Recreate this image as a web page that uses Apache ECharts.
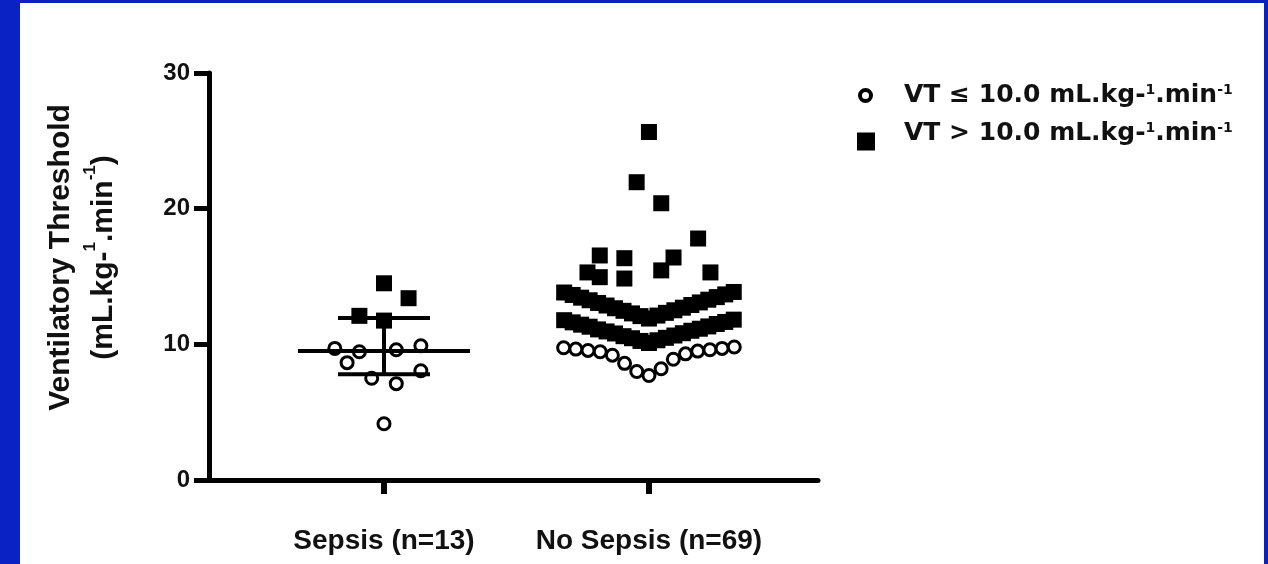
<!DOCTYPE html>
<html><head><meta charset="utf-8">
<script src="https://cdn.jsdelivr.net/npm/echarts@6/dist/echarts.min.js"></script>
<style>
html,body{margin:0;padding:0;background:#0a22c4;overflow:hidden;}
#frame{position:absolute;left:20px;top:3px;width:1244px;height:561px;background:#fff;}
#c{position:absolute;left:0;top:0;width:1268px;height:564px;}
</style>
</head><body><div id="frame"></div><div id="c"></div>
<script>
// ---- data ----
const categories = ['Sepsis (n=13)', 'No Sepsis (n=69)'];
const yTicks = [0, 10, 20, 30];

// Sepsis group
const sepsisLowVT      = [9.7, 9.45, 9.6, 9.9, 8.65, 7.5, 7.1, 8.05, 4.15];
const sepsisLowVTSlots = [-4, -2, 1, 3, -3, -1, 1, 3, 0];
const sepsisHighVT      = [14.5, 13.4, 12.1, 11.75];
const sepsisHighVTSlots = [0, 2, -2, 0];
const sepsisCenterLowHigh = [9.5, 7.8, 11.95];

// No-sepsis group
const noSepsisLowVT = [7.7, 8.0, 8.2, 8.6, 8.9, 9.2, 9.3, 9.45, 9.5, 9.55, 9.6, 9.65, 9.7, 9.75, 9.8];
const noSepsisHighVTBand1 = [10.1, 10.25, 10.3, 10.45, 10.48, 10.6, 10.65, 10.8, 10.82, 10.95, 11.0, 11.1, 11.15, 11.3, 11.32, 11.45, 11.5, 11.62, 11.65, 11.78, 11.82];
const noSepsisHighVTBand2 = [11.9, 12.08, 12.12, 12.28, 12.32, 12.47, 12.51, 12.66, 12.7, 12.86, 12.9, 13.05, 13.09, 13.25, 13.29, 13.44, 13.48, 13.64, 13.68, 13.82, 13.86];
const noSepsisHighVTScattered      = [25.65, 21.95, 20.4, 17.8, 16.55, 16.35, 16.4, 15.3, 14.95, 14.85, 15.45, 15.3];
const noSepsisHighVTScatteredSlots = [0, -1, 1, 4, -4, -2, 2, -5, -4, -2, 1, 5];

// ---- layout helpers (positions derived from the data) ----
const SLOT = 0.0464;       // one symbol step, in x-axis units
const BAND_SLOT = 0.032;   // tighter step for crowded rows
const CIRCLE_SLOT = 0.046;
function slotted(vals, slots, pos, w) { return vals.map((v, i) => [pos + slots[i] * w, v]); }
function chevron(vals, pos, w) {
  const s = vals.slice().sort((a, b) => a - b);
  return s.map((v, i) => [pos + Math.ceil(i / 2) * (i % 2 ? -1 : 1) * w, v]);
}

const lowData = [].concat(
  slotted(sepsisLowVT, sepsisLowVTSlots, 1, SLOT),
  chevron(noSepsisLowVT, 2, CIRCLE_SLOT)
);
const highData = [].concat(
  slotted(sepsisHighVT, sepsisHighVTSlots, 1, SLOT),
  chevron(noSepsisHighVTBand1, 2, BAND_SLOT),
  chevron(noSepsisHighVTBand2, 2, BAND_SLOT),
  slotted(noSepsisHighVTScattered, noSepsisHighVTScatteredSlots, 2, SLOT)
);

const ARIAL = 'Liberation Sans, Arial, sans-serif';
const DEJAVU = 'DejaVu Sans, sans-serif';
const supArial = { fontFamily: ARIAL, fontWeight: 'bold', fontSize: 17, verticalAlign: 'top', color: '#111' };
const supDejaVu = { fontFamily: DEJAVU, fontWeight: 'bold', fontSize: 14, verticalAlign: 'top', color: '#111' };

const chart = echarts.init(document.getElementById('c'), null, { renderer: 'canvas' });
chart.setOption({
  animation: false,
  backgroundColor: 'transparent',
  grid: { left: 209, right: 450, top: 73, bottom: 84 },
  xAxis: {
    type: 'value', min: 0.3396, max: 2.638,
    axisLine: { show: true, onZero: false, lineStyle: { color: '#000', width: 5 } },
    axisTick: { show: true, customValues: [1, 2], length: 14, lineStyle: { color: '#000', width: 6 } },
    axisLabel: {
      customValues: [1, 2], formatter: v => categories[Math.round(v) - 1],
      margin: 47, fontFamily: ARIAL, fontWeight: 'bold', fontSize: 28, color: '#111'
    },
    splitLine: { show: false }
  },
  yAxis: {
    type: 'value', min: yTicks[0], max: yTicks[yTicks.length - 1], interval: 10,
    axisLine: { show: true, onZero: false, lineStyle: { color: '#000', width: 5 } },
    axisTick: { show: true, length: 15, lineStyle: { color: '#000', width: 5 } },
    axisLabel: { margin: 19, fontFamily: ARIAL, fontWeight: 'bold', fontSize: 24, color: '#111' },
    splitLine: { show: false },
    name: 'Ventilatory Threshold\n(mL.kg-{sup|1}.min{sup|-1})',
    nameLocation: 'middle', nameGap: 84,
    nameTextStyle: {
      fontFamily: ARIAL, fontWeight: 'bold', fontSize: 30, color: '#111', lineHeight: 43,
      padding: [0, 0, 0, 38], align: 'center',
      rich: { sup: supArial }
    }
  },
  legend: [
    {
      data: [{ name: 'low', icon: 'circle', itemStyle: { color: '#fff', borderColor: '#000', borderWidth: 4 } }],
      left: 858, top: 83, padding: 0, itemWidth: 11, itemHeight: 11, orient: 'vertical',
      selectedMode: false,
      formatter: () => 'VT ≤ 10.0 mL.kg-{sup|1}.min{sup|-1}',
      textStyle: { fontFamily: DEJAVU, fontWeight: 'bold', fontSize: 25, color: '#111', padding: [0, 0, 0, 28], rich: { sup: supDejaVu } }
    },
    {
      data: [{ name: 'high', icon: 'rect', itemStyle: { color: '#000' } }],
      left: 857, top: 121, padding: 0, itemWidth: 18, itemHeight: 18, orient: 'vertical',
      selectedMode: false,
      formatter: () => 'VT > 10.0 mL.kg-{sup|1}.min{sup|-1}',
      textStyle: { fontFamily: DEJAVU, fontWeight: 'bold', fontSize: 25, color: '#111', padding: [0, 0, 16, 24], rich: { sup: supDejaVu } }
    }
  ],
  series: [
    {
      name: 'high', type: 'scatter', data: highData, symbol: 'rect', symbolSize: 16,
      itemStyle: { color: '#000', opacity: 1 }, z: 2
    },
    {
      name: 'low', type: 'scatter', data: lowData, symbol: 'circle', symbolSize: 12,
      itemStyle: { color: '#fff', borderColor: '#000', borderWidth: 3, opacity: 1 }, z: 3
    },
    {
      name: 'summary', type: 'custom', z: 4,
      data: [[1].concat(sepsisCenterLowHigh)],
      renderItem: (params, api) => {
        const x = api.value(0);
        const c = api.coord([x, api.value(1)]);
        const lo = api.coord([x, api.value(2)]);
        const hi = api.coord([x, api.value(3)]);
        const st = { stroke: '#000', lineWidth: 4 };
        return {
          type: 'group', children: [
            { type: 'line', shape: { x1: c[0] - 86, y1: c[1], x2: c[0] + 86, y2: c[1] }, style: st },
            { type: 'line', shape: { x1: lo[0], y1: lo[1], x2: hi[0], y2: hi[1] }, style: st },
            { type: 'line', shape: { x1: lo[0] - 46, y1: lo[1], x2: lo[0] + 46, y2: lo[1] }, style: st },
            { type: 'line', shape: { x1: hi[0] - 46, y1: hi[1], x2: hi[0] + 46, y2: hi[1] }, style: st }
          ]
        };
      }
    }
  ]
});
</script>
</body></html>
